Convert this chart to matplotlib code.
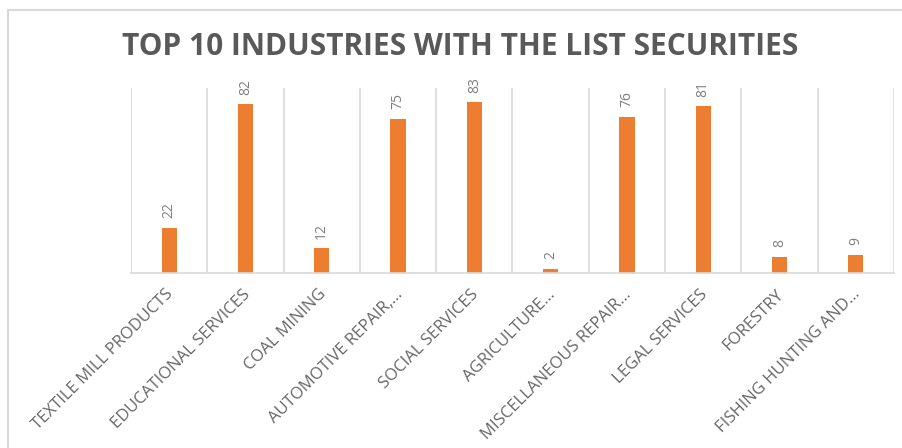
import matplotlib
matplotlib.use("Agg")
import matplotlib.pyplot as plt
from matplotlib.lines import Line2D
from matplotlib.transforms import ScaledTranslation

# Chart data
categories = [
    "TEXTILE MILL PRODUCTS",
    "EDUCATIONAL SERVICES",
    "COAL MINING",
    "AUTOMOTIVE REPAIR,…",
    "SOCIAL SERVICES",
    "AGRICULTURE…",
    "MISCELLANEOUS REPAIR…",
    "LEGAL SERVICES",
    "FORESTRY",
    "FISHING HUNTING AND…",
]
values = [22, 82, 12, 75, 83, 2, 76, 81, 8, 9]
title = "TOP 10 INDUSTRIES WITH THE LIST SECURITIES"

BAR = "#ED7D31"
GRID = "#D9D9D9"
TEXT = "#595959"
LABEL = "#7F7F7F"
FONT = ["Open Sans", "DejaVu Sans"]

W, H = 903, 448
fig = plt.figure(figsize=(W / 100, H / 100), dpi=100)
fig.patch.set_facecolor("white")

# plot area in pixel terms
left, right, top, base = 131, 894, 88, 273
ax = fig.add_axes([left / W, 1 - base / H, (right - left) / W, (base - top) / H])

xs = list(range(len(values)))
ax.bar(xs, values, width=0.2, color=BAR, zorder=3)
ax.set_xlim(-0.5, len(values) - 0.5)
ax.set_ylim(0, 90)

# category separators
for i in range(len(values) + 1):
    ax.axvline(i - 0.5, color=GRID, lw=1.2, zorder=1)

for s in ["top", "right", "left"]:
    ax.spines[s].set_visible(False)
ax.spines["bottom"].set_color(GRID)
ax.spines["bottom"].set_linewidth(1.2)
ax.spines["bottom"].set_zorder(4)
ax.set_yticks([])

# value labels
for xi, v in zip(xs, values):
    ax.annotate(str(v), (xi, v), xytext=(0, 7), textcoords="offset points",
                rotation=90, ha="center", va="bottom", fontsize=10,
                color=LABEL, family=FONT, annotation_clip=False)

# category labels
ax.set_xticks(xs)
ax.set_xticklabels(categories)
ax.tick_params(axis="x", length=0, pad=0)
shift = ScaledTranslation(2 / 100, -19 / 100, fig.dpi_scale_trans)
for lbl in ax.get_xticklabels():
    lbl.set_rotation(45)
    lbl.set_rotation_mode("anchor")
    lbl.set_ha("right")
    lbl.set_va("center")
    lbl.set_fontsize(12)
    lbl.set_family(FONT)
    lbl.set_color("#666666")
    lbl.set_transform(lbl.get_transform() + shift)

fig.text(460 / W, 1 - 47 / H, title, ha="center", va="center", fontsize=21.5,
         fontweight="bold", color=TEXT, family=FONT)

# chart border
fig.add_artist(Line2D([8 / W, 1], [1 - 10 / H, 1 - 10 / H],
                      transform=fig.transFigure, color=GRID, lw=1.5))
fig.add_artist(Line2D([8 / W, 8 / W], [0, 1 - 10 / H],
                      transform=fig.transFigure, color=GRID, lw=1.5))

fig.savefig("out.png", dpi=100, facecolor="white")
